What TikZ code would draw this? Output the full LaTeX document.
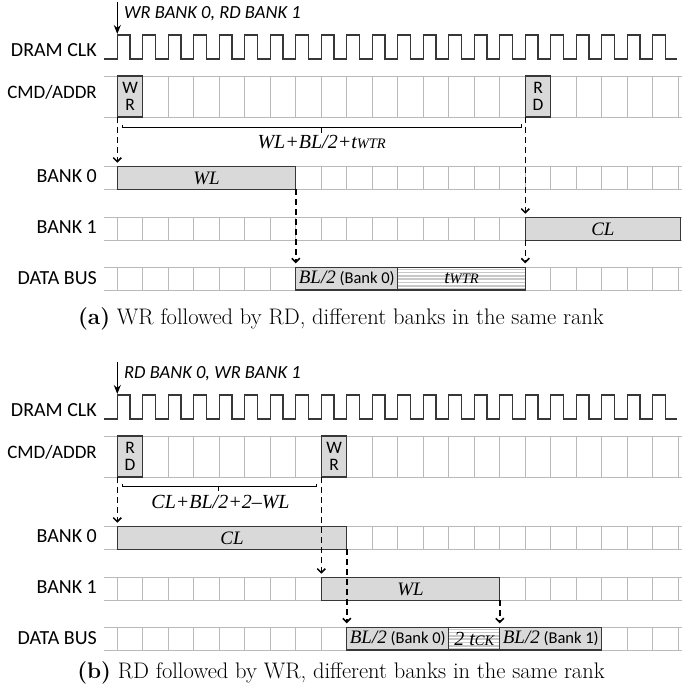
\documentclass[tikz,border=0pt]{standalone}
\usepackage{fontspec}
\usepackage{tikz}
\usetikzlibrary{arrows.meta}
\newfontfamily\labelfont{Carlito}
\newfontfamily\timesfont{Liberation Serif}
\definecolor{GridGray}{RGB}{185,185,185}
\definecolor{BoxFill}{RGB}{217,217,217}
\definecolor{EdgeGray}{RGB}{55,55,55}
\definecolor{StripeGray}{RGB}{200,200,200}

% one row of empty clock cells: #1 top, #2 bottom
\newcommand{\cellrow}[2]{%
  \draw[gridline] (104,#1) -- (682,#1) (104,#2) -- (682,#2);
  \foreach \k in {0,...,22} \draw[gridline] ({117.3+25.5*\k},#1) -- ({117.3+25.5*\k},#2);
}
% clock wave: #1 high level, #2 low level
\newcommand{\clockwave}[2]{%
  \draw[clockline] (104,#2) \foreach \k in {0,...,21} {
    -- ({117.3+25.5*\k},#2) -- ({117.3+25.5*\k},#1) -- ({130.05+25.5*\k},#1) -- ({130.05+25.5*\k},#2)} -- (677,#2);
}

\tikzset{
  gridline/.style={draw=GridGray, line width=1pt},
  clockline/.style={draw=EdgeGray, line width=1.3pt},
  rowlabel/.style={anchor=base east, inner sep=0pt, font=\labelfont\fontsize{20}{22}\selectfont},
  eventlabel/.style={anchor=base west, inner sep=0pt, font=\labelfont\itshape\fontsize{18.5}{20}\selectfont},
  cmdbox/.style={draw=EdgeGray, fill=BoxFill, line width=1.2pt, anchor=north west, inner sep=0pt, outer sep=0pt,
    minimum width=25.5pt, minimum height=41pt, align=center, font=\labelfont\fontsize{17.5}{16.5}\selectfont},
  bankbox/.style={draw=EdgeGray, fill=BoxFill, line width=1.2pt, anchor=north west, inner sep=0pt, outer sep=0pt,
    minimum height=22.7pt, font=\timesfont\itshape\fontsize{19}{20}\selectfont},
  databox/.style={bankbox, font=\labelfont\fontsize{16.5}{18}\selectfont},
  stripebox/.style={bankbox, fill=white, path picture={
    \foreach \s in {2,5.3,...,22} \draw[StripeGray, line width=1.5pt]
      ([yshift=-\s pt]path picture bounding box.north west) -- ([yshift=-\s pt]path picture bounding box.north east);}},
  depend/.style={dash pattern=on 6pt off 4pt, line width=1.5pt, -{Straight Barb[length=4pt,width=8pt]}, shorten >=4pt},
  eventarrow/.style={line width=1.6pt, -{Stealth[length=9pt,width=7pt]}},
  bracket/.style={line width=1pt},
  spanlabel/.style={anchor=base, inner sep=0pt, font=\timesfont\itshape\fontsize{20}{22}\selectfont},
  caption/.style={anchor=base, inner sep=0pt, font=\fontsize{22.5}{26}\selectfont}
}
\newcommand{\tsub}[1]{{\fontsize{14.5}{14}\selectfont #1}}
\newcommand{\blhalf}{{\timesfont\itshape\fontsize{19}{20}\selectfont BL/2}}

\begin{document}
\begin{tikzpicture}[x=1pt,y=-1pt]
  \useasboundingbox (0,0) rectangle (682,694);

  % ---- (a) WR followed by RD
  \coordinate (startA) at (117.3,2);
  \coordinate (edgeA) at (117.3,34);
  \draw[eventarrow] (startA) -- (edgeA);
  \node[eventlabel] (evA) at (124,18.3) {WR BANK 0, RD BANK 1};

  \node[rowlabel] (clkA) at (97,56) {DRAM CLK};
  \node[rowlabel, font=\labelfont\fontsize{19}{20}\selectfont] (cmdA) at (97,98.5) {CMD/ADDR};
  \node[rowlabel] (bank0A) at (97,182.7) {BANK 0};
  \node[rowlabel] (bank1A) at (97,233.3) {BANK 1};
  \node[rowlabel] (busA) at (97,284.3) {DATA BUS};

  \clockwave{35}{59}
  \cellrow{76}{117}
  \cellrow{166.7}{189.4}
  \cellrow{217.7}{240.4}
  \cellrow{267.3}{290}

  \node[cmdbox] (wrA) at (117.3,76) {W\\R};
  \node[cmdbox] (rdA) at (525.3,76) {R\\D};
  \node[bankbox, minimum width=178.5pt] (wlA) at (117.3,166.7) {WL};
  \node[bankbox, minimum width=155.2pt] (clA) at (525.3,217.7) {CL};
  \node[databox, minimum width=102pt] (bl0A) at (295.8,267.3) {\blhalf{} (Bank 0)};
  \node[stripebox, minimum width=127.5pt] (wtrA) at (397.8,267.3) {t\tsub{WTR}};

  \draw[bracket] (122,124.5) -- (122,127) -- (521.5,127) -- (521.5,123.5);
  \draw[bracket] (321.7,127) -- (321.7,132.5);
  \node[spanlabel] (spanA) at (321.7,148.3) {WL+BL/2+t\tsub{WTR}};

  \draw[depend] (wrA.south west) -- (wrA.south west |- wlA.north);
  \draw[depend] (rdA.south west) -- (rdA.south west |- clA.north);
  \draw[depend] (wlA.south east) -- (wlA.south east |- bl0A.north);
  \draw[depend] (clA.south west) -- (clA.south west |- wtrA.north);

  \node[caption] (capA) at (341,324) {\textbf{(a)} WR followed by RD, different banks in the same rank};

  % ---- (b) RD followed by WR
  \coordinate (startB) at (117.3,362);
  \coordinate (edgeB) at (117.3,394);
  \draw[eventarrow] (startB) -- (edgeB);
  \node[eventlabel] (evB) at (124,378.3) {RD BANK 0, WR BANK 1};

  \node[rowlabel] (clkB) at (97,416) {DRAM CLK};
  \node[rowlabel, font=\labelfont\fontsize{19}{20}\selectfont] (cmdB) at (97,458.5) {CMD/ADDR};
  \node[rowlabel] (bank0B) at (97,542.7) {BANK 0};
  \node[rowlabel] (bank1B) at (97,593.3) {BANK 1};
  \node[rowlabel] (busB) at (97,644.3) {DATA BUS};

  \clockwave{395}{419}
  \cellrow{436}{477}
  \cellrow{526.7}{549.4}
  \cellrow{577.7}{600.4}
  \cellrow{627.3}{650}

  \node[cmdbox] (rdB) at (117.3,436) {R\\D};
  \node[cmdbox] (wrB) at (321.3,436) {W\\R};
  \node[bankbox, minimum width=229.5pt] (clB) at (117.3,526.7) {CL};
  \node[bankbox, minimum width=178.5pt] (wlB) at (321.3,577.7) {WL};
  \node[databox, minimum width=102pt] (bl0B) at (346.8,627.3) {\blhalf{} (Bank 0)};
  \node[stripebox, minimum width=51pt] (tckB) at (448.8,627.3) {{\fontsize{20}{20}\selectfont 2 t}\tsub{CK}};
  \node[databox, minimum width=102pt] (bl1B) at (499.8,627.3) {\blhalf{} (Bank 1)};

  \draw[bracket] (122,484) -- (122,486.7) -- (316.7,486.7) -- (316.7,483.5);
  \draw[bracket] (218.7,486.7) -- (218.7,491);
  \node[spanlabel] (spanB) at (220.5,508.7) {CL+BL/2+2–WL};

  \draw[depend] (rdB.south west) -- (rdB.south west |- clB.north);
  \draw[depend] (wrB.south west) -- (wrB.south west |- wlB.north);
  \draw[depend] (clB.south east) -- (clB.south east |- bl0B.north);
  \draw[depend] (wlB.south east) -- (wlB.south east |- bl1B.north);

  \node[caption] (capB) at (341,678.3) {\textbf{(b)} RD followed by WR, different banks in the same rank};
\end{tikzpicture}
\end{document}
